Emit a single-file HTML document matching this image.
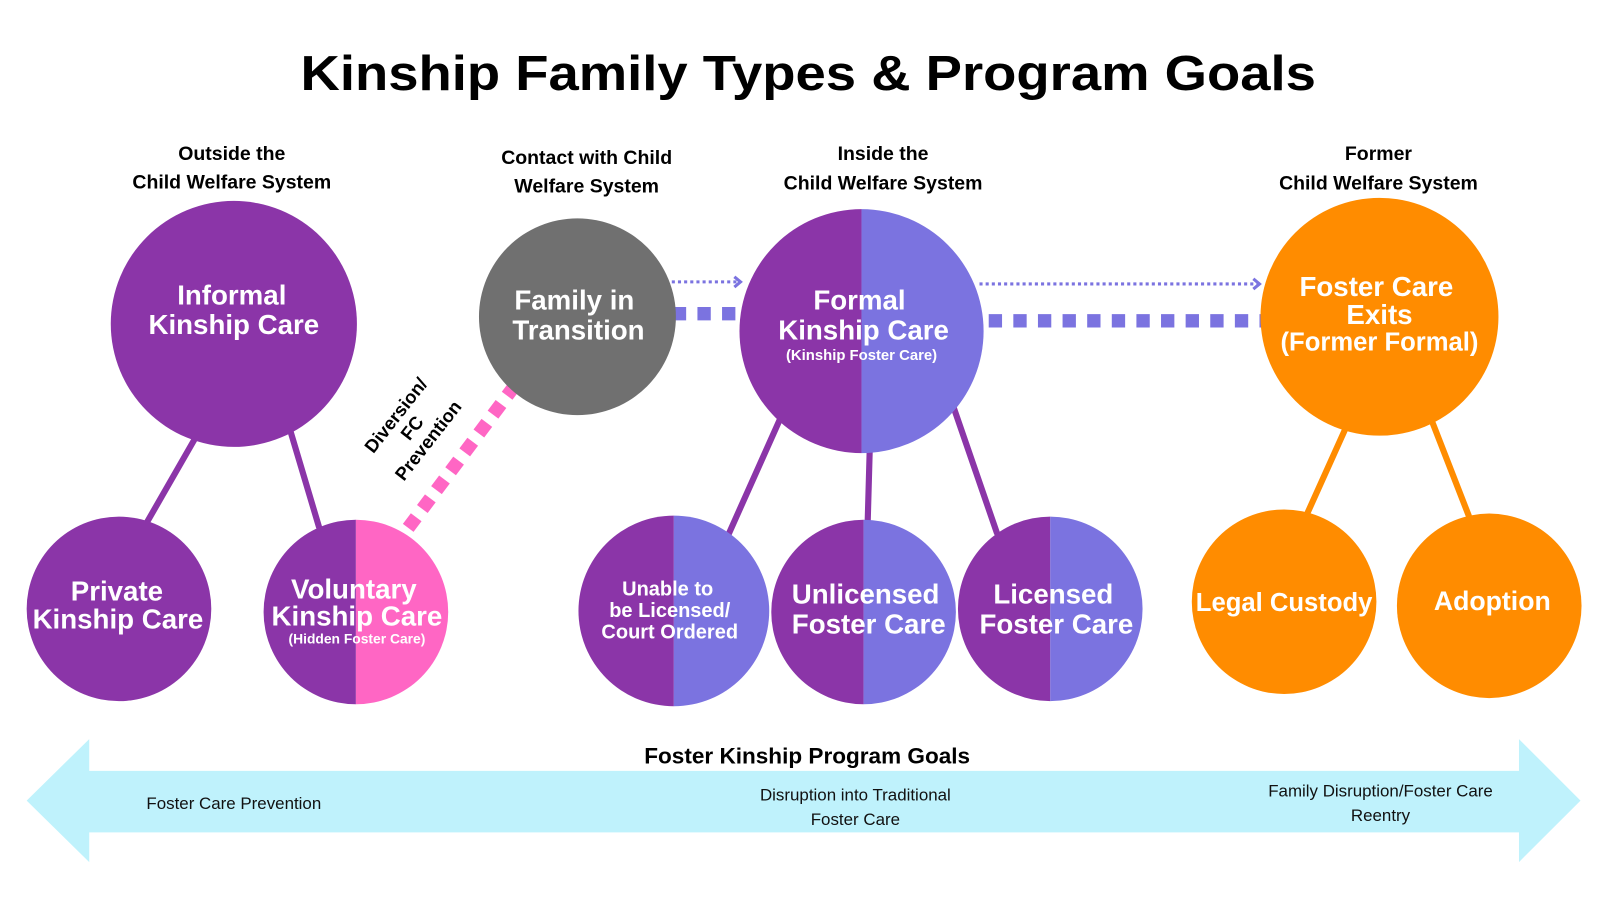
<!DOCTYPE html>
<html><head><meta charset="utf-8"><style>
html,body{margin:0;padding:0;background:#fff;}
svg{display:block}
text{font-family:"Liberation Sans",sans-serif;font-weight:bold;}
.w{fill:#fff;text-anchor:middle}
.h{fill:#000;text-anchor:middle;font-size:19px}
.g{fill:#111;text-anchor:middle;font-weight:normal;font-size:16.5px}
</style></head><body>
<svg width="1600" height="900" viewBox="0 0 1560 878" preserveAspectRatio="none" xmlns="http://www.w3.org/2000/svg">
<defs>
<clipPath id="c1"><circle cx="347" cy="597" r="90"/></clipPath>
<clipPath id="c2"><circle cx="840" cy="323" r="119"/></clipPath>
<clipPath id="c3"><circle cx="657" cy="596" r="93"/></clipPath>
<clipPath id="c4"><circle cx="842" cy="597" r="90"/></clipPath>
<clipPath id="c5"><circle cx="1024" cy="594" r="90"/></clipPath>
</defs>
<text x="788" y="88" text-anchor="middle" font-size="48" textLength="990" lengthAdjust="spacingAndGlyphs">Kinship Family Types &amp; Program Goals</text>
<text class="h" x="226" y="156">Outside the</text><text class="h" x="226" y="184">Child Welfare System</text>
<text class="h" x="572" y="160">Contact with Child</text><text class="h" x="572" y="188">Welfare System</text>
<text class="h" x="861" y="156">Inside the</text><text class="h" x="861" y="185">Child Welfare System</text>
<text class="h" x="1344" y="156">Former</text><text class="h" x="1344" y="185">Child Welfare System</text>

<g stroke-width="6" stroke-linecap="round">
<line x1="190" y1="428" x2="143" y2="510" stroke="#8B35A8"/>
<line x1="283" y1="420" x2="311" y2="514" stroke="#8B35A8"/>
<line x1="760" y1="410" x2="710" y2="522" stroke="#8B35A8"/>
<line x1="848" y1="438" x2="846" y2="509" stroke="#8B35A8"/>
<line x1="930" y1="398" x2="972" y2="520" stroke="#8B35A8"/>
<line x1="1311" y1="420" x2="1275" y2="500" stroke="#FF8C00"/>
<line x1="1397" y1="413" x2="1432" y2="503" stroke="#FF8C00"/>
</g>
<line x1="398" y1="515" x2="505" y2="372" stroke="#FF66C4" stroke-width="13" stroke-dasharray="13 10"/>
<line x1="656" y1="306" x2="722" y2="306" stroke="#7B73E0" stroke-width="13" stroke-dasharray="13 11"/>
<line x1="964" y1="313" x2="1232" y2="313" stroke="#7B73E0" stroke-width="13" stroke-dasharray="13 11"/>
<line x1="655" y1="275" x2="720" y2="275" stroke="#7B73E0" stroke-width="3" stroke-dasharray="3 3"/>
<polyline points="716,270 722,275 716,280" fill="none" stroke="#7B73E0" stroke-width="3"/>
<line x1="955" y1="277" x2="1226" y2="277" stroke="#7B73E0" stroke-width="3" stroke-dasharray="3 3"/>
<polyline points="1222,272 1228,277 1222,282" fill="none" stroke="#7B73E0" stroke-width="3"/>

<circle cx="228" cy="316" r="120" fill="#8B35A8"/>
<circle cx="116" cy="594" r="90" fill="#8B35A8"/>
<g clip-path="url(#c1)"><rect x="250" y="500" width="97" height="200" fill="#8B35A8"/><rect x="347" y="500" width="100" height="200" fill="#FF66C4"/></g>
<circle cx="563" cy="309" r="96" fill="#707070"/>
<g clip-path="url(#c2)"><rect x="715" y="200" width="125" height="250" fill="#8B35A8"/><rect x="840" y="200" width="125" height="250" fill="#7B73E0"/></g>
<g clip-path="url(#c3)"><rect x="560" y="500" width="97" height="200" fill="#8B35A8"/><rect x="657" y="500" width="100" height="200" fill="#7B73E0"/></g>
<g clip-path="url(#c4)"><rect x="750" y="500" width="92" height="200" fill="#8B35A8"/><rect x="842" y="500" width="100" height="200" fill="#7B73E0"/></g>
<g clip-path="url(#c5)"><rect x="930" y="500" width="94" height="200" fill="#8B35A8"/><rect x="1024" y="500" width="100" height="200" fill="#7B73E0"/></g>
<circle cx="1345" cy="309" r="116" fill="#FF8C00"/>
<circle cx="1252" cy="587" r="90" fill="#FF8C00"/>
<circle cx="1452" cy="591" r="90" fill="#FF8C00"/>

<g class="w" font-size="27">
<text class="w" x="226" y="297">Informal</text><text class="w" x="228" y="326">Kinship Care</text>
<text class="w" x="114" y="586">Private</text><text class="w" x="115" y="613">Kinship Care</text>
<text class="w" x="345" y="584">Voluntary</text><text class="w" x="348" y="610">Kinship Care</text>
<text class="w" x="560" y="302">Family in</text><text class="w" x="564" y="331">Transition</text>
<text class="w" x="838" y="302">Formal</text><text class="w" x="842" y="331">Kinship Care</text>
<text class="w" x="844" y="589">Unlicensed</text><text class="w" x="847" y="618">Foster Care</text>
<text class="w" x="1027" y="589">Licensed</text><text class="w" x="1030" y="618">Foster Care</text>
<text class="w" x="1342" y="289">Foster Care</text><text class="w" x="1345" y="316">Exits</text><text class="w" x="1345" y="342" font-size="25">(Former Formal)</text>
<text class="w" x="1252" y="596" font-size="25">Legal Custody</text>
<text class="w" x="1455" y="595" font-size="26">Adoption</text>
</g>
<text class="w" x="348" y="628" font-size="13.5">(Hidden Foster Care)</text>
<text class="w" x="840" y="351" font-size="14.5">(Kinship Foster Care)</text>
<g font-size="19.5"><text class="w" x="651" y="581">Unable to</text><text class="w" x="653" y="602">be Licensed/</text><text class="w" x="653" y="623">Court Ordered</text></g>
<g transform="translate(405,420) rotate(-52)" font-size="18" text-anchor="middle">
<text x="0" y="-18">Diversion/</text><text x="0" y="2">FC</text><text x="0" y="22">Prevention</text></g>

<polygon points="26,781 87,721 87,752 1481,752 1481,721 1541,781 1481,841 1481,812 87,812 87,841" fill="#BFF2FC"/>
<text x="787" y="745" text-anchor="middle" font-size="22">Foster Kinship Program Goals</text>
<text class="g" x="228" y="789">Foster Care Prevention</text>
<text class="g" x="834" y="781">Disruption into Traditional</text><text class="g" x="834" y="805">Foster Care</text>
<text class="g" x="1346" y="777">Family Disruption/Foster Care</text><text class="g" x="1346" y="801">Reentry</text>
</svg>
</body></html>
